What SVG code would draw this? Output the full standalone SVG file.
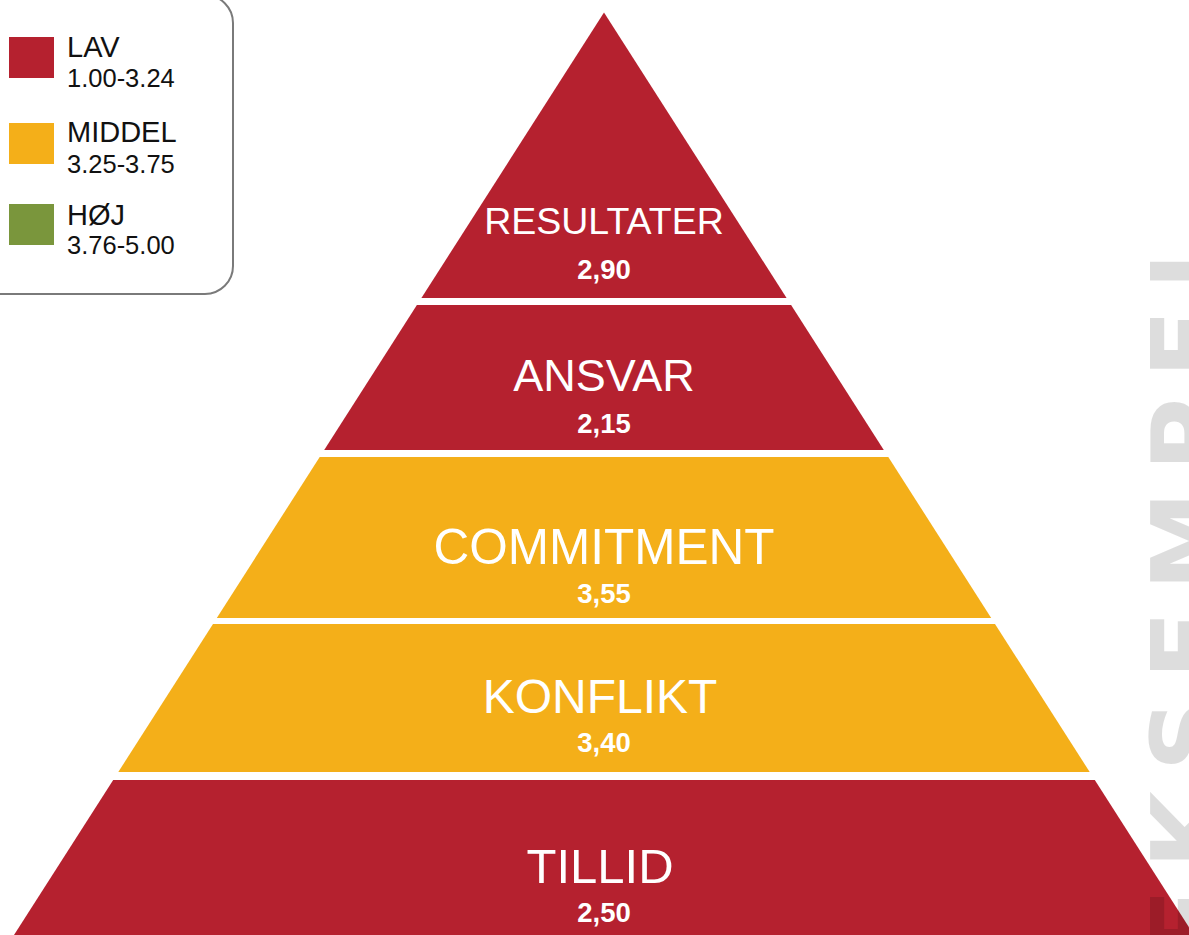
<svg xmlns="http://www.w3.org/2000/svg" width="1189" height="935" viewBox="0 0 1189 935">
<style>
.red{fill:#b5212f}
.yel{fill:#f4af19}
.grn{fill:#7a963c}
.title{font-family:"Liberation Sans",Arial,Helvetica,sans-serif;fill:#fff;text-anchor:middle}
.val{font-family:"Liberation Sans",Arial,Helvetica,sans-serif;fill:#fff;text-anchor:middle;font-weight:bold;font-size:27.5px}
.lg{font-family:"Liberation Sans",Arial,Helvetica,sans-serif;fill:#111;font-size:29px}
.lr{font-family:"Liberation Sans",Arial,Helvetica,sans-serif;fill:#111;font-size:25.5px}
.wm{font-family:"DejaVu Sans",sans-serif;font-weight:bold;font-size:100px;letter-spacing:20px;fill:#000;fill-opacity:0.135}
</style>
<rect width="1189" height="935" fill="#fff"/>
<g id="legend">
<rect x="-30" y="-5" width="263" height="299" rx="28" ry="28" fill="#fff" stroke="#7a7a7a" stroke-width="2"/>
<rect class="red" x="9" y="37" width="45" height="41"/>
<text class="lg" x="67" y="57">LAV</text>
<text class="lr" x="67" y="87">1.00-3.24</text>
<rect class="yel" x="9" y="123" width="45" height="41"/>
<text class="lg" x="67" y="142">MIDDEL</text>
<text class="lr" x="67" y="173">3.25-3.75</text>
<rect class="grn" x="9" y="204" width="45" height="41"/>
<text class="lg" x="67" y="225">HØJ</text>
<text class="lr" x="67" y="254">3.76-5.00</text>
</g>
<g id="resultater">
<polygon class="red" points="604,12.5 786.6,298 421.4,298"/>
<text class="title" x="604" y="234" font-size="37.5">RESULTATER</text>
<text class="val" x="604" y="279">2,90</text>
</g>
<g id="ansvar">
<polygon class="red" points="416.9,305 791.1,305 883.8,450 324.2,450"/>
<text class="title" x="604" y="391" font-size="45">ANSVAR</text>
<text class="val" x="604" y="433">2,15</text>
</g>
<g id="commitment">
<polygon class="yel" points="319.7,457 888.3,457 991.2,618 216.8,618"/>
<text class="title" x="604" y="564" font-size="49.5">COMMITMENT</text>
<text class="val" x="604" y="603">3,55</text>
</g>
<g id="konflikt">
<polygon class="yel" points="213,624 995,624 1089.7,772 118.3,772"/>
<text class="title" x="600" y="713" font-size="48">KONFLIKT</text>
<text class="val" x="604" y="752">3,40</text>
</g>
<g id="tillid">
<polygon class="red" points="113.2,780 1094.8,780 1194,935 14,935"/>
<text class="title" x="600" y="883" font-size="49">TILLID</text>
<text class="val" x="604" y="922">2,50</text>
</g>
<g id="connectors"></g>
<text class="wm" transform="translate(1223,957) rotate(-90)">EKSEMPEL</text>
</svg>
